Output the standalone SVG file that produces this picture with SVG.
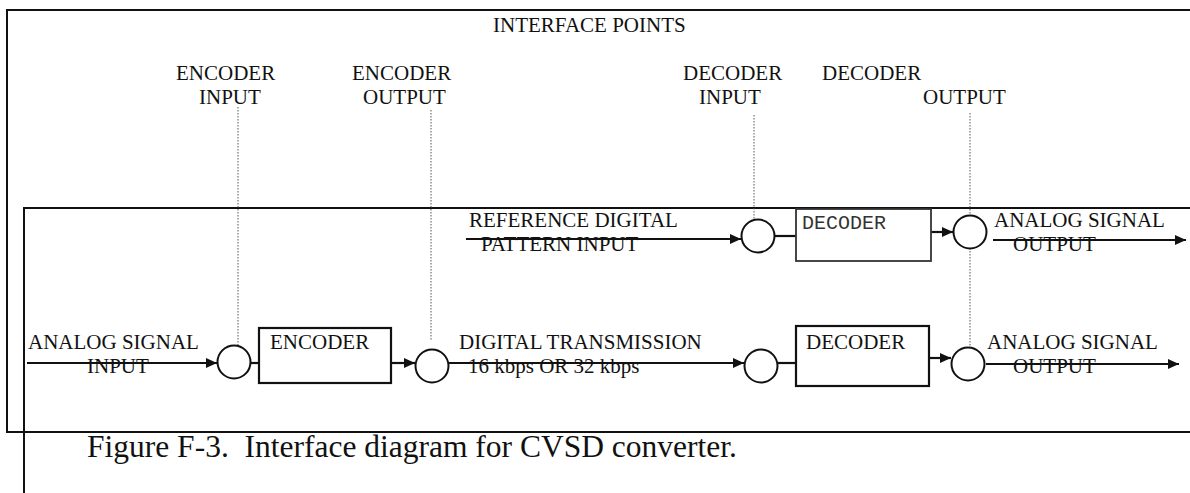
<svg xmlns="http://www.w3.org/2000/svg" width="1190" height="493" viewBox="0 0 1190 493">
<style>
text{font-family:"Liberation Serif","Times New Roman",serif;font-size:21px;fill:#111}
.mono{font-family:"Liberation Mono","Courier New",monospace;font-size:20px;fill:#333}
.cap{font-size:31.5px;white-space:pre}
.frame{fill:none;stroke:#111;stroke-width:2}
.box{fill:#fff;stroke:#111;stroke-width:2.2}
.pt{fill:#fff;stroke:#111;stroke-width:2}
.wire{stroke:#111;stroke-width:2.2;fill:none}
.arr{stroke:#111;stroke-width:2.2;fill:none;marker-end:url(#ah)}
.dot{stroke:#555;stroke-width:1;stroke-dasharray:1.5 1.5;fill:none}
</style>
<defs>
<marker id="ah" markerUnits="userSpaceOnUse" markerWidth="12" markerHeight="10" refX="11" refY="5" orient="auto">
<path d="M0,0 L11,5 L0,10 z" fill="#111"/>
</marker>
</defs>
<rect width="1190" height="493" fill="#fff"/>
<g id="frames">
<path class="frame" d="M1190,10 H7 V432 H1190"/>
<path class="frame" d="M1190,208 H24 V493"/>
</g>
<g id="interface-labels">
<text x="493" y="32">INTERFACE POINTS</text>
<text x="176" y="80">ENCODER</text><text x="199" y="104">INPUT</text>
<text x="352" y="80">ENCODER</text><text x="363" y="104">OUTPUT</text>
<text x="683" y="80">DECODER</text><text x="699" y="104">INPUT</text>
<text x="822" y="80">DECODER</text><text x="923" y="104">OUTPUT</text>
</g>
<g id="connectors">
<line class="dot" x1="238" y1="107" x2="238" y2="345"/>
<line class="dot" x1="431" y1="110" x2="431" y2="340"/>
<line class="dot" x1="754" y1="115" x2="754" y2="220"/>
<line class="dot" x1="970" y1="113" x2="970" y2="216"/>
<line class="dot" x1="970" y1="248" x2="970" y2="348"/>
<line class="arr" x1="27" y1="363" x2="217" y2="363"/>
<line class="wire" x1="250" y1="363" x2="259" y2="363"/>
<line class="arr" x1="391" y1="363" x2="415" y2="363"/>
<line class="arr" x1="448" y1="363" x2="744" y2="363"/>
<line class="wire" x1="777" y1="363" x2="796" y2="363"/>
<line class="arr" x1="929" y1="358" x2="951" y2="358"/>
<line class="arr" x1="986" y1="364" x2="1179" y2="364"/>
<line class="arr" x1="466" y1="239" x2="741" y2="239"/>
<line class="wire" x1="774" y1="236" x2="796" y2="236"/>
<line class="arr" x1="931" y1="232" x2="953" y2="232"/>
<line class="arr" x1="993" y1="240" x2="1186" y2="240"/>
</g>
<g id="pt-enc-in"><circle class="pt" cx="234" cy="362" r="16.5"/></g>
<g id="encoder"><rect class="box" x="259" y="328" width="132" height="55"/><text x="270" y="349">ENCODER</text></g>
<g id="pt-enc-out"><circle class="pt" cx="432" cy="366" r="16.5"/></g>
<g id="pt-dec-in"><circle class="pt" cx="761" cy="366" r="16.5"/></g>
<g id="decoder"><rect class="box" x="796" y="326" width="133" height="60"/><text x="806" y="349">DECODER</text></g>
<g id="pt-dec-out"><circle class="pt" cx="968" cy="364" r="16.5"/></g>
<g id="pt-ref-in"><circle class="pt" cx="758" cy="236" r="16.5"/></g>
<g id="ref-decoder"><rect class="box" x="796" y="209" width="135" height="52" style="stroke:#333;stroke-width:1.8"/><text class="mono" x="802" y="229">DECODER</text></g>
<g id="pt-ref-out"><circle class="pt" cx="970" cy="232" r="16.5"/></g>
<g id="signal-labels">
<text x="469" y="227">REFERENCE DIGITAL</text><text x="481" y="251">PATTERN INPUT</text>
<text x="994" y="227">ANALOG SIGNAL</text><text x="1013" y="251">OUTPUT</text>
<text x="28" y="349">ANALOG SIGNAL</text><text x="87" y="373">INPUT</text>
<text x="459" y="349">DIGITAL TRANSMISSION</text><text x="468" y="373">16 kbps OR 32 kbps</text>
<text x="987" y="349">ANALOG SIGNAL</text><text x="1013" y="373">OUTPUT</text>
</g>
<g id="caption"><text class="cap" x="87" y="457">Figure F-3.  Interface diagram for CVSD converter.</text></g>
</svg>
